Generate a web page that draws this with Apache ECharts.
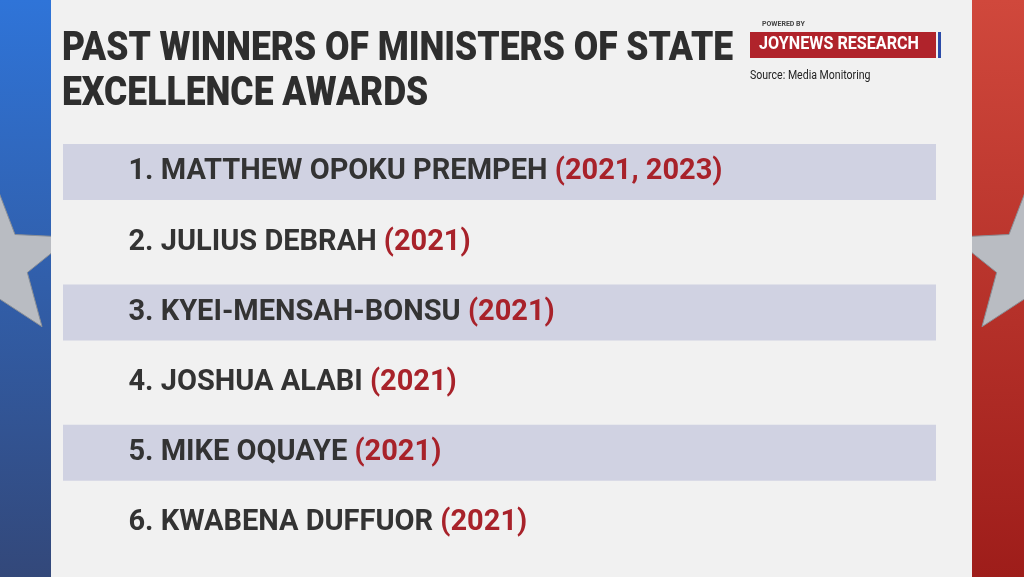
<!DOCTYPE html>
<html><head><meta charset="utf-8">
<script src="https://cdn.jsdelivr.net/npm/echarts@6/dist/echarts.min.js"></script>
<style>html,body{margin:0;padding:0;}#c{width:1024px;height:577px;}</style>
</head><body><div id="c"></div>
<script>
const names = ["1. MATTHEW OPOKU PREMPEH", "2. JULIUS DEBRAH", "3. KYEI-MENSAH-BONSU", "4. JOSHUA ALABI", "5. MIKE OQUAYE", "6. KWABENA DUFFUOR"];
const years = ["(2021, 2023)", "(2021)", "(2021)", "(2021)", "(2021)", "(2021)"];
const bands = [1, 0, 1, 0, 1, 0];
const cats = names.map((n, i) => 'r' + i);
const F = "Roboto,sans-serif";
const chart = echarts.init(document.getElementById('c'));
function star(cx, cy, R, r) {
  const pts = [];
  for (let i = 0; i < 10; i++) {
    const a = -Math.PI / 2 + i * Math.PI / 5, rr = i % 2 ? r : R;
    pts.push([cx + rr * Math.cos(a), cy + rr * Math.sin(a)]);
  }
  return pts;
}
chart.setOption({
  backgroundColor: '#f2f2f2',
  animation: false,
  grid: {left: 63, right: 88, top: 137, bottom: 19},
  xAxis: {type: 'value', min: 0, max: 1, show: false},
  yAxis: {type: 'category', data: cats, inverse: true, show: false},
  graphic: [
    {type: 'rect', z: -10, shape: {x: 0, y: 0, width: 51, height: 577}, style: {fill: {type: 'linear', x: 0, y: 0, x2: 0, y2: 1, colorStops: [{offset: 0, color: '#2f74d8'}, {offset: 1, color: '#33487a'}]}}},
    {type: 'rect', z: -10, shape: {x: 972, y: 0, width: 52, height: 577}, style: {fill: {type: 'linear', x: 0, y: 0, x2: 0, y2: 1, colorStops: [{offset: 0, color: '#d0483c'}, {offset: 1, color: '#9e1d1a'}]}}},
    {type: 'polygon', z: -9, shape: {points: star(-5, 262, 80, 34)}, style: {fill: '#b9bcc2', stroke: '#8a8f96'}},
    {type: 'polygon', z: -9, shape: {points: star(1029, 262, 80, 34)}, style: {fill: '#b9bcc2', stroke: '#8a8f96'}},
    {type: 'rect', z: -8, shape: {x: 51, y: 0, width: 921, height: 577}, style: {fill: '#f1f1f1'}},
    {type: 'text', x: 62, y: 27, scaleX: 0.865, style: {text: 'PAST WINNERS OF MINISTERS OF STATE\nEXCELLENCE AWARDS', fontFamily: 'Roboto', fontWeight: 900, fontSize: 41, fill: '#2e2e2e', lineHeight: 45}},
    {type: 'text', x: 762, y: 21, style: {text: 'POWERED BY', fontFamily: 'Roboto', fontWeight: 'bold', fontSize: 7, fill: '#444'}},
    {type: 'rect', shape: {x: 750, y: 32, width: 186, height: 26}, style: {fill: '#b0232b'}},
    {type: 'rect', shape: {x: 938, y: 32, width: 3, height: 26}, style: {fill: '#2b4ba8'}},
    {type: 'text', x: 759, y: 35, scaleX: 0.85, style: {text: 'JOYNEWS RESEARCH', fontFamily: 'Roboto', fontWeight: 'bold', fontSize: 19, fill: '#ffffff'}},
    {type: 'text', x: 750, y: 70, scaleX: 0.88, style: {text: 'Source: Media Monitoring', fontFamily: 'Roboto', fontSize: 12, fill: '#222'}}
  ],
  series: [
    {type: 'bar', data: bands, barWidth: 56, itemStyle: {color: '#d0d2e2'}, silent: true},
    {type: 'scatter', symbolSize: 0, silent: true, itemStyle: {opacity: 1},
      data: names.map((n, i) => [0.075, cats[i]]),
      label: {show: true, position: 'right', distance: 0, opacity: 1,
        formatter: p => '{a|' + names[p.dataIndex] + ' }{b|' + years[p.dataIndex] + '}',
        rich: {a: {fontFamily: F, fontWeight: 'bold', fontSize: 29, color: '#333333'}, b: {fontFamily: F, fontWeight: 'bold', fontSize: 29, color: '#a8222a'}}}}
  ]
});
</script></body></html>
